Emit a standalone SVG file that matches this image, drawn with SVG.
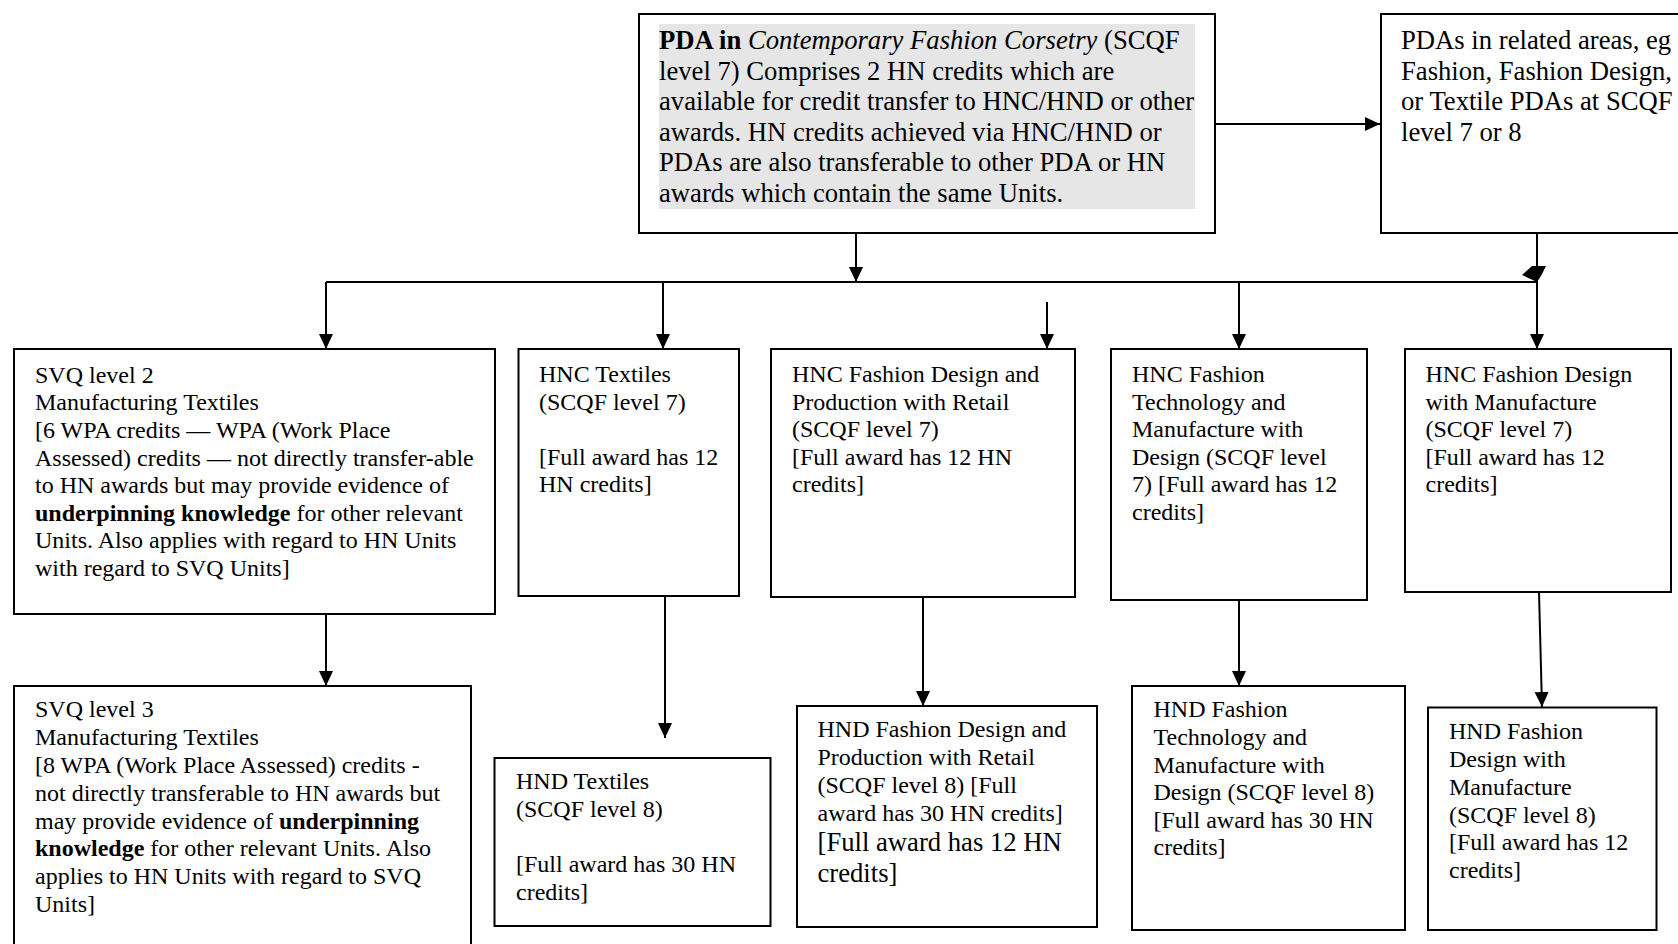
<svg xmlns="http://www.w3.org/2000/svg" width="1678" height="944" viewBox="0 0 1678 944">
<defs>
<style>
.box{fill:#ffffff;stroke:#000000;stroke-width:2}
.t{font-family:"Liberation Serif","Times New Roman",serif;font-size:24px;fill:#000000}
.tl{font-family:"Liberation Serif","Times New Roman",serif;font-size:26.67px;fill:#000000}
.b{font-weight:bold}
.i{font-style:italic}
.ln{fill:none;stroke:#000000;stroke-width:2}
.ar{fill:none;stroke:#000000;stroke-width:2;marker-end:url(#ah)}
</style>
<marker id="ah" markerUnits="userSpaceOnUse" markerWidth="16" markerHeight="15" refX="15" refY="7" orient="auto">
<path d="M0,0 L15,7 L0,14 Z" fill="#000000"/>
</marker>
</defs>
<rect width="1678" height="944" fill="#ffffff"/>

<g id="connectors">
<path class="ar" d="M1215,124 H1380"/>
<path class="ar" d="M856,233 V282"/>
<path class="ln" d="M326,282 H1537"/>
<path class="ln" d="M1537,233 V282"/>
<polygon points="1532,266 1546,266 1541,276 1537,282 1522,275" fill="#000000"/>
<path class="ar" d="M326,282 V349"/>
<path class="ar" d="M663,282 V349"/>
<path class="ar" d="M1047,302 V349"/>
<path class="ar" d="M1239,282 V349"/>
<path class="ar" d="M1537,282 V349"/>
<path class="ar" d="M326,614 V686"/>
<path class="ar" d="M665,596 V738"/>
<path class="ar" d="M923,597 V706"/>
<path class="ar" d="M1239,600 V686"/>
<path class="ar" d="M1539,592 L1542,707"/>
</g>

<g id="pda">
<rect class="box" x="639" y="14" width="576" height="219"/>
<rect x="659" y="24" width="536" height="185" fill="#e6e6e6"/>
<text class="tl" x="659" y="49.3"><tspan class="b">PDA in </tspan><tspan class="i">Contemporary Fashion Corsetry</tspan> (SCQF</text>
<text class="tl" x="659" y="79.8">level 7) Comprises 2 HN credits which are</text>
<text class="tl" x="659" y="110.3">available for credit transfer to HNC/HND or other</text>
<text class="tl" x="659" y="140.8">awards. HN credits achieved via HNC/HND or</text>
<text class="tl" x="659" y="171.3">PDAs are also transferable to other PDA or HN</text>
<text class="tl" x="659" y="201.8">awards which contain the same Units.</text>
</g>

<g id="pdas-related">
<rect class="box" x="1381" y="14" width="310" height="219"/>
<text class="tl" x="1401" y="49.3">PDAs in related areas, eg</text>
<text class="tl" x="1401" y="79.8">Fashion, Fashion Design,</text>
<text class="tl" x="1401" y="110.3">or Textile PDAs at SCQF</text>
<text class="tl" x="1401" y="140.8">level 7 or 8</text>
</g>

<g id="svq2">
<rect class="box" x="14" y="349" width="481" height="265"/>
<text class="t" x="35" y="382.7">SVQ level 2</text>
<text class="t" x="35" y="410.3">Manufacturing Textiles</text>
<text class="t" x="35" y="437.9">[6 WPA credits — WPA (Work Place</text>
<text class="t" x="35" y="465.5">Assessed) credits — not directly transfer-able</text>
<text class="t" x="35" y="493.1">to HN awards but may provide evidence of</text>
<text class="t" x="35" y="520.7"><tspan class="b">underpinning knowledge</tspan> for other relevant</text>
<text class="t" x="35" y="548.3">Units. Also applies with regard to HN Units</text>
<text class="t" x="35" y="575.9">with regard to SVQ Units]</text>
</g>

<g id="hnc-textiles">
<rect class="box" x="518.5" y="349" width="220.5" height="247"/>
<text class="t" x="539" y="382">HNC Textiles</text>
<text class="t" x="539" y="409.5">(SCQF level 7)</text>
<text class="t" x="539" y="464.5">[Full award has 12</text>
<text class="t" x="539" y="492">HN credits]</text>
</g>

<g id="hnc-fdpr">
<rect class="box" x="771" y="349" width="304" height="248"/>
<text class="t" x="792" y="382">HNC Fashion Design and</text>
<text class="t" x="792" y="409.5">Production with Retail</text>
<text class="t" x="792" y="437">(SCQF level 7)</text>
<text class="t" x="792" y="464.5">[Full award has 12 HN</text>
<text class="t" x="792" y="492">credits]</text>
</g>

<g id="hnc-ftmd">
<rect class="box" x="1111" y="349" width="256" height="251"/>
<text class="t" x="1132" y="382">HNC Fashion</text>
<text class="t" x="1132" y="409.5">Technology and</text>
<text class="t" x="1132" y="437">Manufacture with</text>
<text class="t" x="1132" y="464.5">Design (SCQF level</text>
<text class="t" x="1132" y="492">7) [Full award has 12</text>
<text class="t" x="1132" y="519.5">credits]</text>
</g>

<g id="hnc-fdm">
<rect class="box" x="1405" y="349" width="266" height="243"/>
<text class="t" x="1425.5" y="382">HNC Fashion Design</text>
<text class="t" x="1425.5" y="409.5">with Manufacture</text>
<text class="t" x="1425.5" y="437">(SCQF level 7)</text>
<text class="t" x="1425.5" y="464.5">[Full award has 12</text>
<text class="t" x="1425.5" y="492">credits]</text>
</g>

<g id="svq3">
<rect class="box" x="14" y="686" width="457" height="270"/>
<text class="t" x="35" y="717.3">SVQ level 3</text>
<text class="t" x="35" y="745.1">Manufacturing Textiles</text>
<text class="t" x="35" y="772.9">[8 WPA (Work Place Assessed) credits -</text>
<text class="t" x="35" y="800.7">not directly transferable to HN awards but</text>
<text class="t" x="35" y="828.5">may provide evidence of <tspan class="b">underpinning</tspan></text>
<text class="t" x="35" y="856.3"><tspan class="b">knowledge</tspan> for other relevant Units. Also</text>
<text class="t" x="35" y="884.1">applies to HN Units with regard to SVQ</text>
<text class="t" x="35" y="911.9">Units]</text>
</g>

<g id="hnd-textiles">
<rect class="box" x="494.5" y="758" width="276" height="168"/>
<text class="t" x="516" y="789">HND Textiles</text>
<text class="t" x="516" y="817">(SCQF level 8)</text>
<text class="t" x="516" y="872">[Full award has 30 HN</text>
<text class="t" x="516" y="900">credits]</text>
</g>

<g id="hnd-fdpr">
<rect class="box" x="797" y="706" width="300" height="221"/>
<text class="t" x="817.5" y="737.3">HND Fashion Design and</text>
<text class="t" x="817.5" y="765">Production with Retail</text>
<text class="t" x="817.5" y="793">(SCQF level 8) [Full</text>
<text class="t" x="817.5" y="821">award has 30 HN credits]</text>
<text class="tl" x="817.5" y="851">[Full award has 12 HN</text>
<text class="tl" x="817.5" y="881.5">credits]</text>
</g>

<g id="hnd-ftmd">
<rect class="box" x="1132" y="686" width="273" height="244"/>
<text class="t" x="1153.5" y="717.3">HND Fashion</text>
<text class="t" x="1153.5" y="745">Technology and</text>
<text class="t" x="1153.5" y="772.5">Manufacture with</text>
<text class="t" x="1153.5" y="800">Design (SCQF level 8)</text>
<text class="t" x="1153.5" y="827.7">[Full award has 30 HN</text>
<text class="t" x="1153.5" y="855.3">credits]</text>
</g>

<g id="hnd-fdm">
<rect class="box" x="1428" y="707.5" width="228.5" height="222.5"/>
<text class="t" x="1449" y="739.3">HND Fashion</text>
<text class="t" x="1449" y="767">Design with</text>
<text class="t" x="1449" y="794.7">Manufacture</text>
<text class="t" x="1449" y="822.5">(SCQF level 8)</text>
<text class="t" x="1449" y="850">[Full award has 12</text>
<text class="t" x="1449" y="877.7">credits]</text>
</g>
</svg>
